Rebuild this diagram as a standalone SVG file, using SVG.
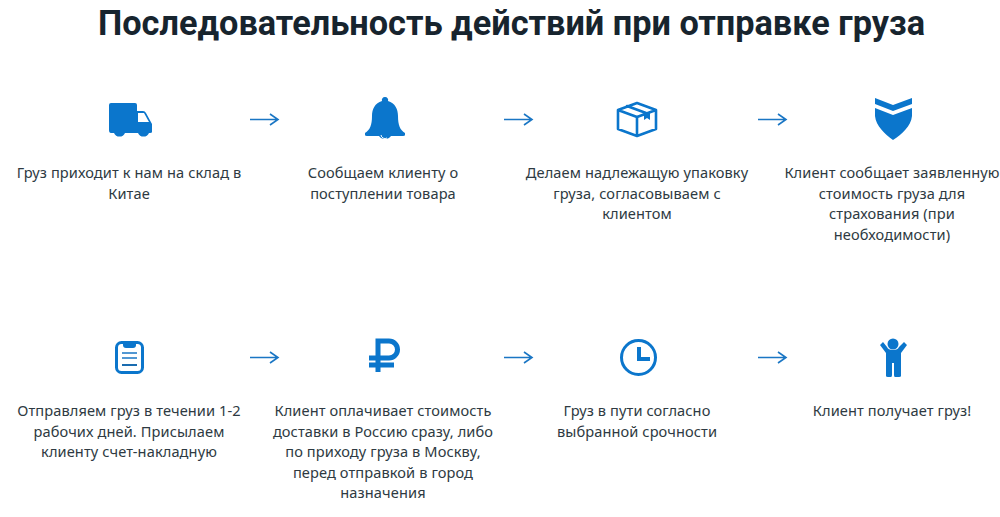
<svg xmlns="http://www.w3.org/2000/svg" width="1000" height="517" viewBox="0 0 1000 517">
<style>
text{font-family:"Noto Sans","Open Sans","Liberation Sans",sans-serif;fill:#2e3a42}
.t{font-size:14.600px;text-anchor:middle;letter-spacing:.1px}
.h{font-family:Roboto,"Noto Sans",sans-serif;font-size:35.500px;font-weight:700;text-anchor:middle;fill:#17242e}
.f{fill:#0b76cc}
.s{fill:none;stroke:#0b76cc;stroke-width:2.6;stroke-linejoin:round;stroke-linecap:round}
.a{fill:none;stroke:#1a76c4;stroke-width:1.6}
</style>
<defs>
<g id="ar"><path class="a" d="M0 0H28M20-5.500L28 0L20 5.500"/></g>
</defs>
<rect width="1000" height="517" fill="#fff"/>
<text class="h" x="511.500" y="35" textLength="827" lengthAdjust="spacingAndGlyphs">Последовательность действий при отправке груза</text>
<g id="connectors">
<use href="#ar" x="250" y="119.500"/>
<use href="#ar" x="504" y="119.500"/>
<use href="#ar" x="758" y="119.500"/>
<use href="#ar" x="250" y="357.500"/>
<use href="#ar" x="504" y="357.500"/>
<use href="#ar" x="758" y="357.500"/>
</g>
<g id="n1">
<path class="f" d="M111 103H135Q137 103 137 105V111H143Q145 111 146 113L152 124V132Q152 133 150 133H149A6 6 0 0 1 138 133H125A6 6 0 0 1 114 133H111Q109 133 109 130V105Q109 103 111 103Z"/>
<path fill="#fff" d="M138 113H144L149 122H138Z"/>
<text class="t" x="129" y="178">Груз приходит к нам на склад в</text>
<text class="t" x="129" y="199">Китае</text>
</g>
<g id="n2">
<path class="f" d="M385 97A3 3 0 0 1 388 101C395 103 398 109 398 116C398 125 400 130 405 133V135Q405 136 403 136H391A7 6 0 0 1 379 136H367Q365 136 365 135V133C370 130 372 125 372 116C372 109 375 103 382 101A3 3 0 0 1 385 97Z"/>
<path fill="none" stroke="#fff" d="M381 135A4 4 0 0 0 387 138"/>
<text class="t" x="383" y="178">Сообщаем клиенту о</text>
<text class="t" x="383" y="199">поступлении товара</text>
</g>
<g id="n3">
<path class="s" d="M637 103L656 110V129L637 136L618 129V110ZM618 110L637 117L656 110M637 117V136M627 106L646 113"/>
<path class="f" d="M644 114L650 112V120L647 118L644 120Z"/>
<text class="t" x="637" y="178">Делаем надлежащую упаковку</text>
<text class="t" x="637" y="199">груза, согласовываем с</text>
<text class="t" x="637" y="219">клиентом</text>
</g>
<g id="n4">
<path class="f" d="M875 98L893 105L912 98V104L893 111L875 104Z"/>
<path class="f" d="M875 108L893 115L912 108V116C911 126 902 134 893 140C885 134 876 126 875 116Z"/>
<text class="t" x="892" y="178">Клиент сообщает заявленную</text>
<text class="t" x="892" y="199">стоимость груза для</text>
<text class="t" x="892" y="219">страхования (при</text>
<text class="t" x="892" y="240">необходимости)</text>
</g>
<g id="n5">
<rect x="116.500" y="342.500" width="26" height="30" rx="5" fill="none" stroke="#0b76cc" stroke-width="3"/>
<path class="f" d="M123 341H136V345Q136 348 133 348H126Q123 348 123 345Z"/>
<path fill="none" stroke="#1a76c4" stroke-width="1.300" d="M122 353H137M122 358H137"/>
<path fill="none" stroke="#1a6cb0" stroke-width="2" d="M122 365H137"/>
<text class="t" x="129" y="416">Отправляем груз в течении 1-2</text>
<text class="t" x="129" y="437">рабочих дней. Присылаем</text>
<text class="t" x="129" y="457">клиенту счет-накладную</text>
</g>
<g id="n6">
<path fill="none" stroke="#0b76cc" stroke-width="5" d="M378 372V341H389A8.500 8.500 0 0 1 389 358H369M369 365H394"/>
<text class="t" x="383" y="416">Клиент оплачивает стоимость</text>
<text class="t" x="383" y="437">доставки в Россию сразу, либо</text>
<text class="t" x="383" y="457">по приходу груза в Москву,</text>
<text class="t" x="383" y="478">перед отправкой в город</text>
<text class="t" x="383" y="498">назначения</text>
</g>
<g id="n7">
<circle cx="638.500" cy="357.500" r="17" fill="none" stroke="#0b76cc" stroke-width="3"/>
<path class="f" d="M637 347H641V357H650V361H637Z"/>
<text class="t" x="637" y="416">Груз в пути согласно</text>
<text class="t" x="637" y="437">выбранной срочности</text>
</g>
<g id="n8">
<circle cx="893" cy="344" r="5.500" class="f"/>
<path class="f" d="M880 345L883 342L887 347Q888 350 893 350Q898 350 899 347L904 342L907 345L901 353V376Q901 377 899 377H895Q894 377 894 375V363H892V375Q892 377 891 377H888Q886 377 886 376V353Z"/>
<text class="t" x="892" y="416">Клиент получает груз!</text>
</g>
</svg>
